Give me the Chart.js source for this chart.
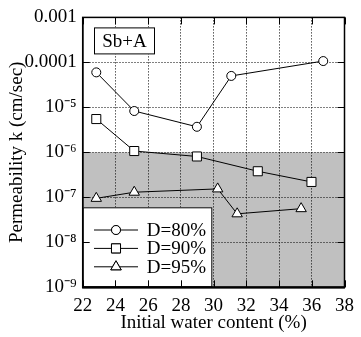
<!DOCTYPE html>
<html><head><meta charset="utf-8">
<script src="https://cdn.jsdelivr.net/npm/chart.js@4.4.1/dist/chart.umd.min.js"></script>
<style>html,body{margin:0;padding:0;background:#fff;overflow:hidden}#wrap{width:361px;height:337px;position:relative}</style>
</head><body><div id="wrap"><canvas id="c" width="361" height="337"></canvas></div>
<script>
// ---- data ----
const seriesNames = ['D=80%', 'D=90%', 'D=95%'];
const waterD80 = [22.83, 25.15, 28.98, 31.08, 36.7];
const kD80 = [6.0e-5, 8.3e-6, 3.7e-6, 5.0e-5, 1.07e-4];
const waterD90 = [22.83, 25.15, 28.98, 32.7, 35.98];
const kD90 = [5.5e-6, 1.07e-6, 8.1e-7, 3.8e-7, 2.2e-7];
const waterD95 = [22.83, 25.15, 30.25, 31.44, 35.35];
const kD95 = [0.95e-7, 1.3e-7, 1.54e-7, 4.3e-8, 5.6e-8];
const xTickValues = [22, 24, 26, 28, 30, 32, 34, 36, 38];
const yTickValues = [1e-9, 1e-8, 1e-7, 1e-6, 1e-5, 1e-4, 1e-3];
const yTickLabels = ['10\u207B\u2079', '10\u207B\u2078', '10\u207B\u2077', '10\u207B\u2076', '10\u207B\u2075', '0.0001', '0.001'];
const shadeLimit = 1e-6;
const panelLabel = 'Sb+A';
const xTitle = 'Initial water content (%)';
const yTitle = 'Permeability k (cm/sec)';

const FONT = '"Liberation Serif", "Times New Roman", serif';
const toPts = (xs, ys) => xs.map((x, i) => ({x: x, y: ys[i]}));
const styles = ['circle', 'rect', 'triangle'];
const radii = [4.5, 6.4, 6];

function mk(i, xs, ys) {
  return {
    label: seriesNames[i], data: toPts(xs, ys),
    borderColor: '#000', borderWidth: 1, backgroundColor: '#fff',
    pointStyle: styles[i], pointRadius: radii[i], pointHoverRadius: radii[i],
    pointBackgroundColor: '#fff', pointBorderColor: '#000', pointBorderWidth: 1,
    showLine: true, tension: 0, fill: false
  };
}

const deco = {
  id: 'deco',
  beforeDraw(chart) {
    const {ctx, chartArea: a, scales} = chart;
    const yS = scales.y.getPixelForValue(shadeLimit);
    ctx.save();
    ctx.fillStyle = '#c0c0c0';
    ctx.fillRect(a.left, yS, a.right - a.left, a.bottom - yS);
    ctx.restore();
  },
  afterDraw(chart) {
    const {ctx, chartArea: a, scales} = chart;
    ctx.save();
    // legend box
    const lx = a.left, lw = 129.6, lh = 80, ly = a.bottom - lh;
    ctx.fillStyle = '#fff';
    ctx.fillRect(lx, ly, lw, lh);
    ctx.strokeStyle = '#000'; ctx.lineWidth = 1;
    ctx.strokeRect(lx + 0.5, ly + 0.5, lw - 1, lh - 1);
    chart.data.datasets.forEach((ds, i) => {
      const yy = ly + 22.7 + i * 18.4;
      ctx.beginPath();
      ctx.strokeStyle = '#000'; ctx.lineWidth = 1;
      ctx.moveTo(lx + 11.3, yy); ctx.lineTo(lx + 55.3, yy); ctx.stroke();
      Chart.helpers.drawPoint(ctx, {pointStyle: ds.pointStyle, radius: ds.pointRadius, borderWidth: 1, rotation: 0}, lx + 33.3, yy);
      ctx.fillStyle = '#fff'; ctx.fill(); ctx.stroke();
      ctx.fillStyle = '#000';
      ctx.font = '19px ' + FONT;
      ctx.textBaseline = 'middle'; ctx.textAlign = 'left';
      ctx.fillText(ds.label, lx + 64, yy + 1);
    });
    // panel label
    const bx = a.left + 11.3, by = a.top + 10, bw = 61, bh = 27;
    ctx.fillStyle = '#fff'; ctx.fillRect(bx, by, bw, bh);
    ctx.strokeRect(bx + 0.5, by + 0.5, bw - 1, bh - 1);
    ctx.fillStyle = '#000'; ctx.textAlign = 'center'; ctx.textBaseline = 'middle';
    ctx.font = '19px ' + FONT;
    ctx.fillText(panelLabel, bx + bw / 2, by + bh / 2 + 1);
    // inward ticks
    ctx.strokeStyle = '#000'; ctx.lineWidth = 1;
    ctx.beginPath();
    xTickValues.forEach(v => {
      const px = Math.round(scales.x.getPixelForValue(v)) + 0.5;
      ctx.moveTo(px, a.bottom); ctx.lineTo(px, a.bottom - 7);
      ctx.moveTo(px, a.top); ctx.lineTo(px, a.top + 7);
    });
    yTickValues.forEach(v => {
      const py = Math.round(scales.y.getPixelForValue(v)) + 0.5;
      ctx.moveTo(a.left, py); ctx.lineTo(a.left + 7, py);
      ctx.moveTo(a.right, py); ctx.lineTo(a.right - 7, py);
    });
    ctx.stroke();
    // frame
    ctx.lineWidth = 1.5;
    ctx.strokeRect(a.left, a.top, a.right - a.left, a.bottom - a.top);
    ctx.lineWidth = 2;
    ctx.beginPath(); ctx.moveTo(a.left, a.bottom); ctx.lineTo(a.right, a.bottom); ctx.stroke();
    ctx.restore();
  }
};

new Chart(document.getElementById('c'), {
  type: 'line',
  data: {datasets: [mk(0, waterD80, kD80), mk(1, waterD90, kD90), mk(2, waterD95, kD95)]},
  options: {
    responsive: false, animation: false, devicePixelRatio: 1,
    layout: {padding: {top: 17.3, right: 8.7, left: 0, bottom: 0}},
    plugins: {legend: {display: false}, tooltip: {enabled: false}},
    scales: {
      x: {
        type: 'linear', min: 22, max: 38,
        afterBuildTicks(s) { s.ticks = xTickValues.map(v => ({value: v})); },
        afterFit(s) { s.height = 49.7; },
        ticks: {color: '#000', font: {family: FONT, size: 19}, padding: 7, maxRotation: 0, autoSkip: false},
        grid: {color: '#000', lineWidth: 1, drawTicks: false},
        border: {display: true, color: '#000', width: 1.5, dash: [1, 2]},
        title: {display: true, text: xTitle, color: '#000', font: {family: FONT, size: 19}, padding: {top: 3, bottom: 3}}
      },
      y: {
        type: 'logarithmic', min: 1e-9, max: 1e-3,
        afterBuildTicks(s) { s.ticks = yTickValues.map(v => ({value: v})); },
        afterFit(s) { s.width = 82.7; },
        ticks: {color: '#000', font: {family: FONT, size: 19}, padding: 6,
          callback(v) { const i = yTickValues.findIndex(t => Math.abs(Math.log10(t) - Math.log10(v)) < 1e-6); return i >= 0 ? yTickLabels[i] : ''; }},
        grid: {color: '#000', lineWidth: 1, drawTicks: false},
        border: {display: true, color: '#000', width: 1.5, dash: [1, 2]},
        title: {display: true, text: yTitle, color: '#000', font: {family: FONT, size: 19}, padding: {top: 6, bottom: 0}}
      }
    }
  },
  plugins: [deco]
});
</script></body></html>
